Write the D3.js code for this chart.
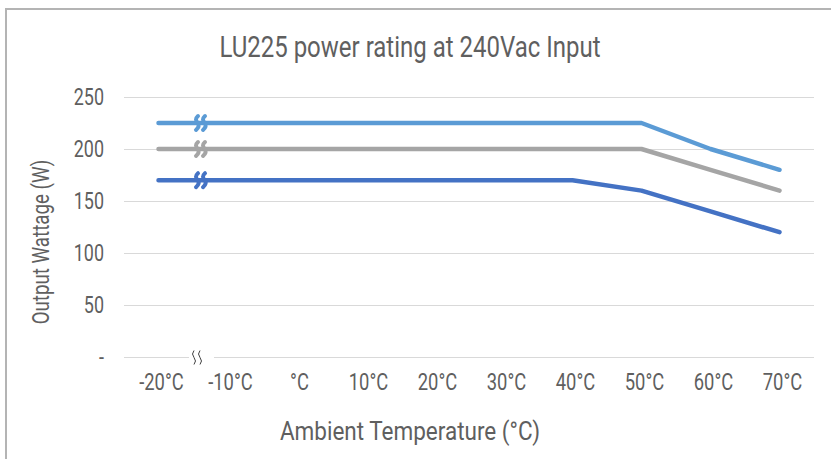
<!DOCTYPE html>
<html>
<head>
<meta charset="utf-8">
<script src="https://cdn.jsdelivr.net/npm/d3@7"></script>
<style>
  body { margin: 0; background: #fff; }
  text { font-family: Roboto, "Noto Sans", sans-serif; fill: #5f5f5f; }
</style>
</head>
<body>
<div id="main"></div>
<script>
// chart data
var categories = ['-20°C', '-10°C', '°C', '10°C', '20°C', '30°C', '40°C', '50°C', '60°C', '70°C'];
var yTicks = [0, 50, 100, 150, 200, 250];
var yTickLabels = ['-', '50', '100', '150', '200', '250'];
var series225 = [225, 225, 225, 225, 225, 225, 225, 225, 200, 180];
var series200 = [200, 200, 200, 200, 200, 200, 200, 200, 180, 160];
var series170 = [170, 170, 170, 170, 170, 170, 170, 160, 140, 120];
var seriesColors = ['#5B9BD5', '#A5A5A5', '#4472C4'];

// narrow text: the source chart uses a condensed face
function narrowText(sel, x, y, size, squeeze, anchor, str, rot) {
  return sel.append('text')
    .attr('transform', 'translate(' + x + ',' + y + ')' + (rot ? ' rotate(' + rot + ')' : '') + ' scale(' + squeeze + ',1)')
    .attr('text-anchor', anchor)
    .attr('font-size', size)
    .text(str);
}

function create_chart() {

  var width = 831, height = 459;

  var svg = d3.select('#main').append('svg').attr('width', width).attr('height', height);

  // outer frame
  svg.append('path')
    .attr('d', 'M6,' + height + 'V9H' + width)
    .attr('fill', 'none')
    .attr('stroke', '#b4b4b4')
    .attr('stroke-width', 2);

  var xScale = d3.scaleBand().domain(categories).range([124, 814]);

  var yScale = d3.scaleLinear().domain([0, 250]).range([357, 97]);

  // gridlines
  svg.selectAll('.grid')
    .data(yTicks.filter(function (d) { return d > 0; }))
    .enter()
    .append('line')
    .attr('x1', 124).attr('x2', 814)
    .attr('y1', function (d) { return yScale(d) + 0.5; })
    .attr('y2', function (d) { return yScale(d) + 0.5; })
    .attr('stroke', '#d9d9d9')
    .attr('stroke-width', 1);

  // baseline with break gap
  var y0 = yScale(0) + 0.5;
  svg.append('line').attr('x1', 124).attr('x2', 189).attr('y1', y0).attr('y2', y0).attr('stroke', '#d9d9d9');
  svg.append('line').attr('x1', 214).attr('x2', 814).attr('y1', y0).attr('y2', y0).attr('stroke', '#d9d9d9');

  // axis break squiggles
  [194, 200].forEach(function (x) {
    svg.append('path')
      .attr('d', 'M' + x + ',' + (y0 - 7) + 'q-3,3.5 0,7 q3,3.5 0,7')
      .attr('fill', 'none')
      .attr('stroke', '#404040')
      .attr('stroke-width', 1);
  });

  // y tick labels
  yTicks.forEach(function (d, i) {
    narrowText(svg, 104, yScale(d) + 8, 23, 0.78, 'end', yTickLabels[i]);
  });

  // x tick labels
  categories.forEach(function (d) {
    narrowText(svg, xScale(d) + xScale.bandwidth() / 2 + 3, 390, 23, 0.8, 'middle', d);
  });

  var lineGenerator = d3.line()
    .x(function (d, i) { return xScale(categories[i]) + xScale.bandwidth() / 2; })
    .y(function (d) { return yScale(d); });

  [series225, series200, series170].forEach(function (s, k) {

    svg.append('path')
      .datum(s)
      .attr('fill', 'none')
      .attr('stroke', seriesColors[k])
      .attr('stroke-width', 4.5)
      .attr('stroke-linecap', 'round')
      .attr('stroke-linejoin', 'round')
      .attr('d', lineGenerator);

    // break marks on the line
    var yb = yScale(s[0]);
    [197, 204].forEach(function (x) {
      svg.append('path')
        .attr('d', 'M' + (x + 1) + ',' + (yb - 7) + 'q-4,3.5 0,7 q2,3.5 -2,7')
        .attr('fill', 'none')
        .attr('stroke', seriesColors[k])
        .attr('stroke-width', 4)
        .attr('stroke-linecap', 'round');
    });
  });

  // title
  narrowText(svg, 410, 57, 30, 0.8, 'middle', 'LU225 power rating at 240Vac Input');

  // axis titles
  narrowText(svg, 410, 440, 25, 0.9, 'middle', 'Ambient Temperature (°C)');

  narrowText(svg, 49, 242, 24, 0.78, 'middle', 'Output Wattage (W)', -90);
}

create_chart();
</script>
</body>
</html>
